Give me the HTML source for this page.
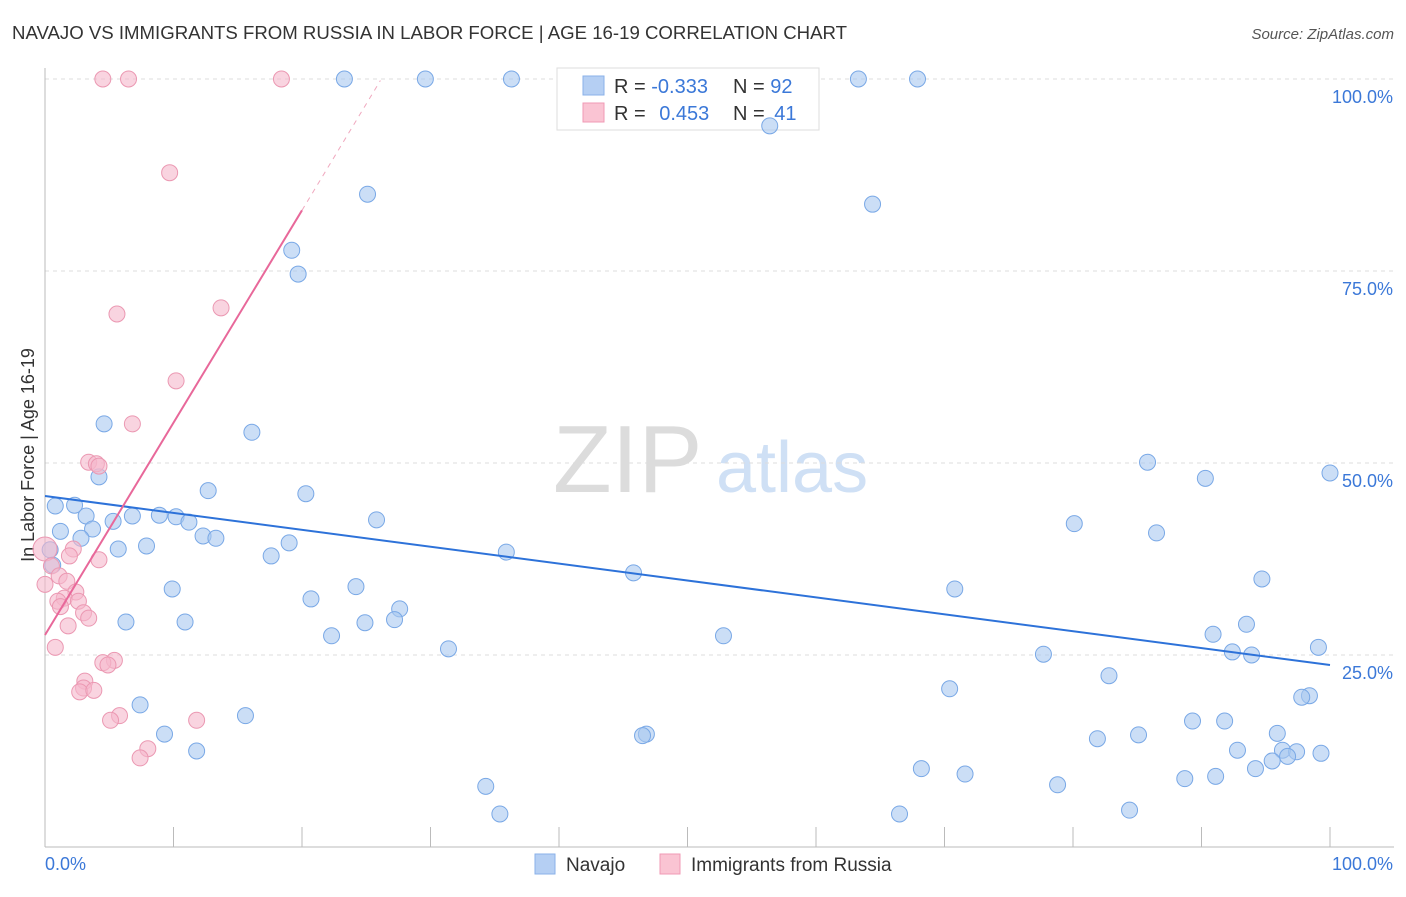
<!DOCTYPE html>
<html><head><meta charset="utf-8"><style>
body{margin:0;background:#fff;font-family:"Liberation Sans",sans-serif;}
svg text{font-family:"Liberation Sans",sans-serif;}
</style></head><body>
<svg id="chart" width="1406" height="892" xmlns="http://www.w3.org/2000/svg">
<text x="12" y="39" font-size="18.5" fill="#333" textLength="835" lengthAdjust="spacingAndGlyphs">NAVAJO VS IMMIGRANTS FROM RUSSIA IN LABOR FORCE | AGE 16-19 CORRELATION CHART</text>
<text x="1394" y="39" font-size="15" fill="#555" text-anchor="end" font-style="italic">Source: ZipAtlas.com</text>
<g>
<text x="553" y="492" font-size="96" fill="#dcdcdc" font-family="Liberation Serif, serif">ZIP</text>
<text x="716" y="492" font-size="72" fill="#cfe0f5">atlas</text>
</g>
<g id="grid"></g>
<line x1="45" y1="68" x2="45" y2="847" stroke="#bbb"/>
<line x1="45" y1="847" x2="1394" y2="847" stroke="#bbb"/>
<g id="ticks"></g>
<text transform="translate(34,455) rotate(-90)" font-size="18" fill="#333" text-anchor="middle">In Labor Force | Age 16-19</text>
<text x="45" y="870" font-size="18" fill="#3b78d8">0.0%</text>
<text x="1393" y="870" font-size="18" fill="#3b78d8" text-anchor="end">100.0%</text>
<g>
<rect x="557" y="68" width="262" height="62" fill="#fff" stroke="#ddd"/>
<rect x="583" y="76" width="21" height="19" fill="#b5cff3" stroke="#8ab1e8"/>
<rect x="583" y="103" width="21" height="19" fill="#fac4d3" stroke="#f09ab4"/>
<text x="614" y="93" font-size="20" fill="#333">R = <tspan fill="#3b78d8">-0.333</tspan></text>
<text x="733" y="93" font-size="20" fill="#333">N = <tspan fill="#3b78d8">92</tspan></text>
<text x="614" y="120" font-size="20" fill="#333">R = <tspan fill="#3b78d8" dx="8">0.453</tspan></text>
<text x="733" y="120" font-size="20" fill="#333">N = <tspan fill="#3b78d8" dx="4">41</tspan></text>
</g>
<g id="pts"></g>
<g id="lines"></g>
<g>
<rect x="535" y="854" width="20" height="20" fill="#b5cff3" stroke="#8ab1e8"/>
<text x="566" y="871" font-size="19" fill="#333">Navajo</text>
<rect x="660" y="854" width="20" height="20" fill="#fac4d3" stroke="#f09ab4"/>
<text x="691" y="871" font-size="19" fill="#333">Immigrants from Russia</text>
</g>
</svg>
<script>
const yTicks=[100,75,50,25];
const yTickLabels=["100.0%","75.0%","50.0%","25.0%"];
const xTicks=[0,10,20,30,40,50,60,70,80,90,100];
const navX=[23.3,29.6,36.3,63.3,67.9,56.4,25.1,64.4,19.2,19.7,4.6,16.1,85.8,100,90.3,4.2,12.7,20.3,0.8,2.3,3.2,6.8,8.9,10.2,5.3,25.8,11.2,80.1,1.2,3.7,2.8,12.3,13.3,86.5,19.0,7.9,5.7,0.4,17.6,35.9,0.6,45.8,94.7,9.9,24.2,70.8,20.7,27.6,6.3,10.9,24.9,27.2,93.5,22.3,52.8,90.9,99.1,31.4,92.4,93.9,77.7,82.8,70.4,98.4,97.8,7.4,15.6,89.3,91.8,95.9,9.3,46.8,46.5,85.1,81.9,11.8,92.8,96.3,97.4,99.3,96.7,95.5,68.2,94.2,71.6,91.1,88.7,78.8,34.3,84.4,35.4,66.5];
const navY=[100,100,100,100,100,93.9,85.0,83.7,77.7,74.6,55.1,54.0,50.1,48.7,48.0,48.2,46.4,46.0,44.4,44.5,43.1,43.1,43.2,43.0,42.4,42.6,42.3,42.1,41.1,41.4,40.2,40.5,40.2,40.9,39.6,39.2,38.8,38.7,37.9,38.4,36.7,35.7,34.9,33.6,33.9,33.6,32.3,31.0,29.3,29.3,29.2,29.6,29.0,27.5,27.5,27.7,26.0,25.8,25.4,25.0,25.1,22.3,20.6,19.7,19.5,18.5,17.1,16.4,16.4,14.8,14.7,14.7,14.5,14.6,14.1,12.5,12.6,12.6,12.4,12.2,11.8,11.2,10.2,10.2,9.5,9.2,8.9,8.1,7.9,4.8,4.3,4.3];
const rusX=[4.5,6.5,18.4,9.7,13.7,5.6,10.2,6.8,3.4,4.0,4.2,0,2.2,1.9,4.2,0.5,1.1,1.7,0,2.4,1.5,2.6,1.0,1.2,3.0,3.4,1.8,0.8,5.4,4.5,4.9,3.1,3.0,2.7,3.8,5.8,5.1,11.8,8.0,7.4];
const rusY=[100,100,100,87.8,70.2,69.4,60.7,55.1,50.1,49.9,49.6,38.8,38.8,37.9,37.4,36.6,35.3,34.6,34.2,33.2,32.4,32.0,32.0,31.3,30.5,29.8,28.8,26.0,24.3,24.0,23.7,21.6,20.7,20.2,20.4,17.1,16.5,16.5,12.8,11.6];
const navTrend=[45.7,23.7];
const rusTrend=[27.6,82.9,99.8];
const rusTrendX=[0,20,26.1];

const NS="http://www.w3.org/2000/svg";
const sx=v=>45+v*12.85, sy=v=>847-v*7.68;
function mk(p,t,a){const e=document.createElementNS(NS,t);for(const k in a)e.setAttribute(k,a[k]);p.appendChild(e);return e;}
const grid=document.getElementById('grid');
yTicks.forEach((t,i)=>{
 const l=mk(grid,'line',{x1:45,x2:1394,y1:sy(t),y2:sy(t),stroke:'#ddd','stroke-dasharray':'4,4'});
 
 
 const tx=mk(grid,'text',{x:1393,y:sy(t)+24,'font-size':18,fill:'#3b78d8','text-anchor':'end'});
 tx.textContent=yTickLabels[i];
 
 
});
const ticks=document.getElementById('ticks');
xTicks.forEach(t=>{
 const l=mk(ticks,'line',{x1:sx(t),x2:sx(t),y1:827,y2:847,stroke:'#bbb'});
 
 
});
const pts=document.getElementById('pts');
navX.forEach((x,i)=>{
 const c=mk(pts,'circle',{cx:sx(x),cy:sy(navY[i]),r:8,fill:'rgba(169,200,240,0.6)',stroke:'#79a8e6','stroke-width':1});
 
 
});
rusX.forEach((x,i)=>{
 const c=mk(pts,'circle',{cx:sx(x),cy:sy(rusY[i]),r:i===11?12:8,fill:'rgba(245,184,203,0.6)',stroke:'#eb98b2','stroke-width':1});
 
 
});
const lines=document.getElementById('lines');
const nl=mk(lines,'line',{x1:sx(0),y1:sy(navTrend[0]),x2:sx(100),y2:sy(navTrend[1]),stroke:'#2d72d9','stroke-width':2});


const rl=mk(lines,'line',{x1:sx(rusTrendX[0]),y1:sy(rusTrend[0]),x2:sx(rusTrendX[1]),y2:sy(rusTrend[1]),stroke:'#e8689a','stroke-width':2});


const rd=mk(lines,'line',{x1:sx(rusTrendX[1]),y1:sy(rusTrend[1]),x2:sx(rusTrendX[2]),y2:sy(rusTrend[2]),stroke:'#f0a8be','stroke-width':1,'stroke-dasharray':'5,5'});


</script>
</body></html>
